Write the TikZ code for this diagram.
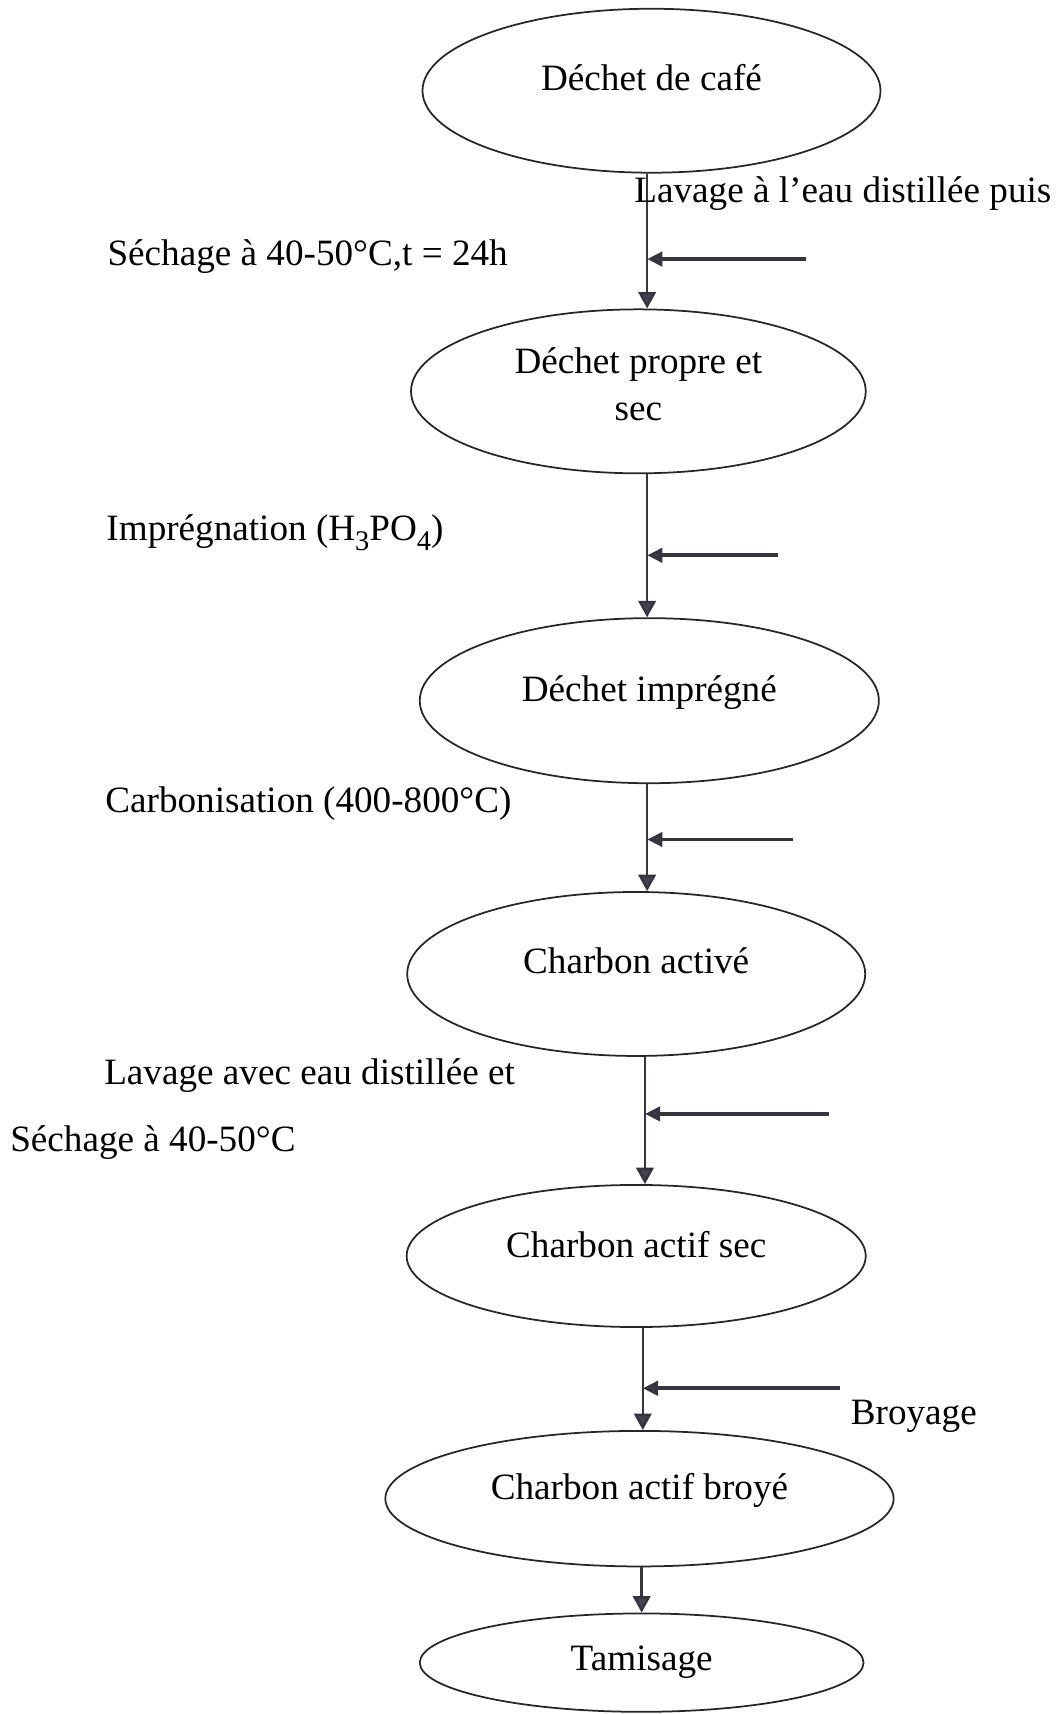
\documentclass[tikz,border=0pt]{standalone}
\usepackage{fontspec}
\setmainfont{Liberation Serif}
\usetikzlibrary{shapes.geometric,arrows.meta,calc}
\definecolor{ink}{HTML}{36343F}
\definecolor{head}{HTML}{45424F}
\newcommand{\lowsub}[1]{\raisebox{-0.28em}{\fontsize{13}{14}\selectfont #1}}
\begin{document}
\begin{tikzpicture}[x=0.5pt,y=-0.5pt,
  font=\fontsize{17}{20}\selectfont,
  proc/.style={ellipse,draw=black!85,line width=0.8pt,inner sep=0pt},
  lbl/.style={inner sep=0pt,text=black},
  flow/.style={draw=ink,line width=1.1pt,-{Triangle[length=7.5pt,width=8pt,fill=head]}},
  feed/.style={draw=ink,line width=1.8pt,-{Triangle[length=7pt,width=6.5pt,fill=head]}}]
\useasboundingbox (0,0) rectangle (968,1568);
% process ellipses
\node[proc,minimum width=209.5pt,minimum height=75pt] (e1) at (596,83) {};
\node[proc,minimum width=208pt,minimum height=75pt] (e2) at (584,358) {};
\node[proc,minimum width=210pt,minimum height=75.5pt] (e3) at (594,641) {};
\node[proc,minimum width=209.5pt,minimum height=75pt] (e4) at (582,891) {};
\node[proc,minimum width=210pt,minimum height=65pt] (e5) at (582,1149) {};
\node[proc,minimum width=232.5pt,minimum height=62pt] (e6) at (585,1371) {};
\node[proc,minimum width=203pt,minimum height=45pt] (e7) at (587,1521) {};
% texts in ellipses
\node[lbl,anchor=base] (t1) at ($(e1.center)+(0,0)$) {Déchet de café};
\node[lbl,anchor=base] (t2a) at ($(e2.center)+(0,-16)$) {Déchet propre et};
\node[lbl,anchor=base] (t2b) at ($(e2.center)+(0,27)$) {sec};
\node[lbl,anchor=base] (t3) at ($(e3.center)+(0,1)$) {Déchet imprégné};
\node[lbl,anchor=base] (t4) at ($(e4.center)+(0,0)$) {Charbon activé};
\node[lbl,anchor=base] (t5) at ($(e5.center)+(0,1)$) {Charbon actif sec};
\node[lbl,anchor=base] (t6) at ($(e6.center)+(0,1)$) {Charbon actif broyé};
\node[lbl,anchor=base] (t7) at ($(e7.center)+(0,7)$) {Tamisage};
% junctions and feed starts
\coordinate (j1) at (592,237); \coordinate (s1) at (737,237);
\coordinate (j2) at (592,508); \coordinate (s2) at (712,508);
\coordinate (j3) at (592,768); \coordinate (s3) at (725,768);
\coordinate (j4) at (590,1019); \coordinate (s4) at (758,1019);
\coordinate (j5) at (588,1270); \coordinate (s5) at (768,1270);
\coordinate (j6) at (587,1450);
% main flow
\draw[flow] (e1.south -| j1) -- (e2.north -| j1);
\draw[flow] (e2.south -| j2) -- (e3.north -| j2);
\draw[flow] (e3.south -| j3) -- (e4.north -| j3);
\draw[flow] (e4.south -| j4) -- (e5.north -| j4);
\draw[flow] (e5.south -| j5) -- (e6.north -| j5);
\draw[flow] (e6.south -| j6) -- (e7.north -| j6);
% feed arrows
\draw[feed] (s1) -- (j1);
\draw[feed] (s2) -- (j2);
\draw[feed] (s3) -- (j3);
\draw[feed] (s4) -- (j4);
\draw[feed] (s5) -- (j5);
% step labels
\node[lbl,anchor=base west] (l1a) at (580,185) {Lavage à l’eau distillée puis};
\node[lbl,anchor=base west] (l1b) at (98,243) {Séchage à 40-50°C,t = 24h};
\node[lbl,anchor=base west] (l2) at (97,494) {Imprégnation (H\lowsub{3}PO\lowsub{4})};
\node[lbl,anchor=base west] (l3) at (96,743) {Carbonisation (400-800°C)};
\node[lbl,anchor=base west] (l4a) at (95,992) {Lavage avec eau distillée et};
\node[lbl,anchor=base west] (l4b) at (9,1053) {Séchage à 40-50°C};
\node[lbl,anchor=base west] (l5) at (778,1303) {Broyage};
\end{tikzpicture}
\end{document}
